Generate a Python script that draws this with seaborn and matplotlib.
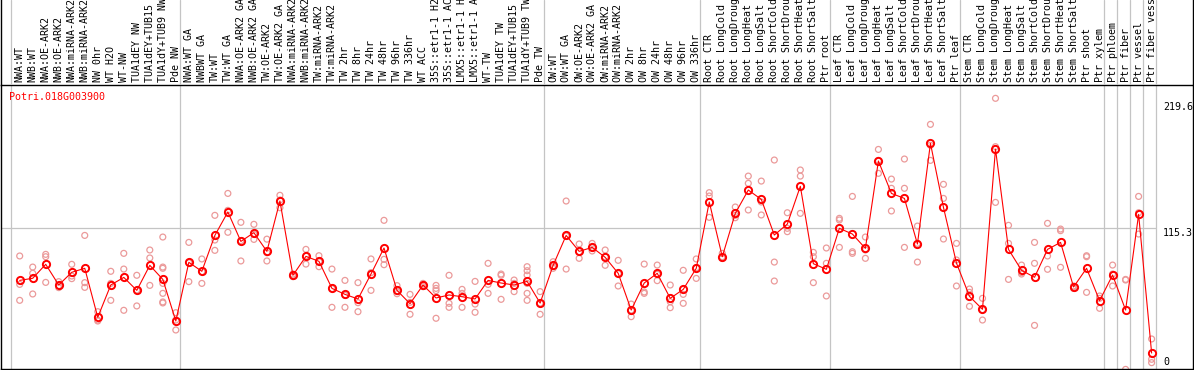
import numpy as np
import pandas as pd
import matplotlib
matplotlib.use('Agg')
import matplotlib.pyplot as plt
import seaborn as sns

# подписи образцов (сверху, повернуты)
labels = [
    'NWA:WT', 'NWB:WT', 'NWA:OE-ARK2', 'NWB:OE-ARK2', 'NWA:miRNA-ARK2', 'NWB:miRNA-ARK2',
    'NW 0hr', 'WT H2O', 'WT-NW', 'TUA1dEY NW', 'TUA1dEY+TUB15 NW', 'TUA1dY+TUB9 NW', 'Pde NW',
    'NWA:WT GA', 'NWBWT GA', 'TW:WT', 'TW:WT GA', 'NWA:OE-ARK2 GA', 'NWB:OE-ARK2 GA',
    'TW:OE-ARK2', 'TW:OE-ARK2 GA', 'NWA:miRNA-ARK2 GA', 'NWB:miRNA-ARK2 GA', 'TW:miRNA-ARK2',
    'TW:miRNA-ARK2 GA', 'TW 2hr', 'TW 8hr', 'TW 24hr', 'TW 48hr', 'TW 96hr', 'TW 336hr',
    'WT ACC', '35S::etr1-1 H2O', '35S::etr1-1 ACC', 'LMX5::etr1-1 H2O', 'LMX5::etr1-1 ACC',
    'WT-TW', 'TUA1dEY TW', 'TUA1dEY+TUB15 TW', 'TUA1dY+TUB9 TW', 'Pde TW',
    'OW:WT', 'OW:WT GA', 'OW:OE-ARK2', 'OW:OE-ARK2 GA', 'OW:miRNA-ARK2', 'OW:miRNA-ARK2 GA',
    'OW 2hr', 'OW 8hr', 'OW 24hr', 'OW 48hr', 'OW 96hr', 'OW 336hr',
    'Root CTR', 'Root LongCold', 'Root LongDrought', 'Root LongHeat', 'Root LongSalt',
    'Root ShortCold', 'Root ShortDrought', 'Root ShortHeat', 'Root ShortSalt', 'Ptr root',
    'Leaf CTR', 'Leaf LongCold', 'Leaf LongDrought', 'Leaf LongHeat', 'Leaf LongSalt',
    'Leaf ShortCold', 'Leaf ShortDrought', 'Leaf ShortHeat', 'Leaf ShortSalt', 'Ptr leaf',
    'Stem CTR', 'Stem LongCold', 'Stem LongDrought', 'Stem LongHeat', 'Stem LongSalt',
    'Stem ShortCold', 'Stem ShortDrought', 'Stem ShortHeat', 'Stem ShortSalt', 'Ptr shoot',
    'Ptr xylem', 'Ptr phloem', 'Ptr fiber', 'Ptr vessel', 'Ptr fiber vessel',
]
group_sizes = [13, 28, 12, 10, 10, 11, 1, 1, 1, 1]

# средние значения (линия)
means = [
    73.5, 75.2, 86.4, 69.8, 80.0, 83.2, 43.9, 69.8, 75.9, 65.5, 85.6, 74.3, 40.9,
    88.0, 80.8, 109.6, 128.4, 104.8, 111.8, 96.8, 137.2, 77.6, 92.8, 88.8, 67.1, 62.3,
    58.6, 78.6, 99.5, 65.5, 54.8, 69.8, 59.4, 61.8, 60.4, 58.6, 73.5, 71.4, 69.8, 72.7, 55.3,
    85.6, 109.6, 96.8, 100.0, 92.0, 79.2, 49.7, 71.4, 79.2, 59.1, 66.3, 83.2,
    136.4, 92.5, 127.3, 146.0, 138.5, 109.9, 118.7, 149.0, 86.9, 82.4,
    115.3, 110.7, 99.2, 169.3, 143.3, 139.3, 102.7, 183.5, 132.1, 87.4,
    60.7, 50.3, 178.9, 98.4, 81.6, 76.0, 98.4, 104.0, 68.2, 83.2, 57.2,
    77.8, 49.7, 126.5, 15.2,
]

# повторности (кружки)
replicates = [
    [93.1, 70.3, 57.5], [84.2, 79.2, 62.6], [94.4, 92.5, 71.9], [72.5, 69.3, 67.7],
    [86.4, 77.0, 74.9], [109.6, 71.7, 67.9], [48.4, 41.7, 40.9], [80.8, 71.1, 57.5],
    [95.2, 82.6, 49.5], [77.6, 65.8, 53.0], [97.9, 91.5, 69.5],
    [108.3, 84.2, 83.2, 71.1, 63.1, 56.2, 55.4], [47.6, 41.7, 33.7],
    [104.0, 87.7, 72.5], [90.7, 80.5, 71.1], [125.7, 105.9, 97.6], [143.3, 129.7, 112.1],
    [120.1, 105.4, 89.1], [118.5, 110.4, 106.4], [106.6, 95.7, 89.1], [141.8, 138.0, 131.8],
    [78.6, 77.6, 76.5], [98.4, 93.1, 86.6], [93.3, 88.5, 84.5], [82.6, 66.9, 51.9],
    [73.5, 61.5, 51.9], [71.7, 55.6, 48.4], [90.7, 79.7, 65.5], [121.7, 90.4, 86.1],
    [69.3, 64.5, 62.8], [62.3, 55.9, 46.3], [71.1, 69.8, 68.5], [69.5, 67.1, 65.3, 43.1],
    [77.6, 55.1, 51.9], [66.3, 63.1, 51.9], [72.7, 54.5, 47.9], [87.2, 70.3, 63.1],
    [78.6, 77.6, 58.3], [73.8, 71.1, 64.5], [84.5, 81.3, 77.8, 71.1, 63.1, 57.5],
    [64.5, 55.3, 46.3],
    [88.5, 85.0, 83.2], [137.2, 109.1, 82.6], [102.7, 96.5, 91.2], [103.2, 100.0, 97.1],
    [97.9, 92.5, 85.6], [89.6, 78.9, 69.0], [54.5, 49.7, 44.4], [86.6, 64.2, 63.1],
    [85.8, 78.4, 73.3], [69.8, 56.4, 51.6], [81.6, 62.3, 55.1], [90.7, 83.7, 75.1],
    [143.9, 141.2, 124.1], [95.2, 92.5, 91.2], [132.4, 125.7, 123.8], [157.2, 151.4, 130.0],
    [153.2, 136.4, 126.0], [170.1, 88.2, 73.0], [127.8, 115.3, 112.6], [162.1, 157.2, 127.3],
    [96.0, 92.5, 71.7], [99.5, 87.2, 61.0],
    [123.3, 122.0, 100.0], [140.9, 96.5, 95.2], [108.3, 97.9, 91.2], [178.6, 169.8, 159.4],
    [154.8, 147.4, 129.2], [170.9, 147.4, 100.0], [117.1, 103.2, 88.2], [198.7, 181.9, 169.8],
    [150.6, 139.3, 106.7], [103.2, 89.9, 69.0],
    [66.6, 63.9, 52.7], [59.1, 50.0, 41.7], [219.6, 180.8, 136.1], [117.7, 103.2, 74.3],
    [85.8, 79.7, 78.6], [104.0, 87.2, 37.4], [119.3, 93.1, 82.4], [114.7, 113.4, 84.0],
    [69.0, 68.2, 67.1], [93.3, 92.5, 63.9], [61.0, 59.1, 51.1],
    [85.8, 78.6, 69.0], [74.3, 73.8, 2.1], [140.9, 127.8, 110.7], [26.5, 10.2, 7.5],
]

gene = 'Potri.018G003900'
scale_values = [219.6, 115.3, 0]
ref_line = 115.3

idx = np.arange(len(labels))
reps_df = pd.DataFrame([(i, v) for i, r in enumerate(replicates) for v in r],
                       columns=['idx', 'expr'])
means_df = pd.DataFrame({'idx': idx, 'expr': means})

sns.set_theme(style='white')
plt.rcParams['font.family'] = ['DejaVu Sans Mono', 'DejaVu Sans']
fs = 7.2

W, H = 1194, 370
fig = plt.figure(figsize=(W / 100, H / 100), dpi=100)
ax = fig.add_axes([1 / W, 1 / H, 1192 / W, 284 / H])
ax_head = fig.add_axes([1 / W, 285 / H, 1192 / W, 85 / H], sharex=ax)

xmin, xmax = -1.437, 90.18
ax.set_xlim(xmin, xmax)
ax.set_ylim(2.4, 230.3)

# разделители групп
bounds = np.concatenate([[0], np.cumsum(group_sizes)]) - 0.69
for a in (ax, ax_head):
    for b in bounds:
        a.axvline(b, color='#c4c4c4', lw=0.9, zorder=0)
ax.hlines(ref_line, xmin, bounds[-1], color='#c4c4c4', lw=0.9, zorder=0)

sns.scatterplot(data=reps_df, x='idx', y='expr', ax=ax, marker='o', s=18,
                facecolor='none', edgecolor='#eb9a9a', linewidth=0.9, zorder=2,
                legend=False)
sns.lineplot(data=means_df, x='idx', y='expr', ax=ax, color='red', lw=0.8,
             marker='o', markersize=5.2, markerfacecolor='none',
             markeredgecolor='red', markeredgewidth=1.4, zorder=3)

for a in (ax, ax_head):
    a.set_xticks([])
    a.set_yticks([])
    a.set_xlabel('')
    a.set_ylabel('')
    for side in ['left', 'right', 'top', 'bottom']:
        a.spines[side].set_color('black')
        a.spines[side].set_linewidth(1.0)
ax_head.spines['top'].set_visible(False)
ax_head.spines['bottom'].set_visible(False)

ax.text(0.007, 0.958, gene, transform=ax.transAxes, color='red', fontsize=fs,
        ha='left', va='center')

# подписи шкалы справа
offsets = [-6.5, -3.2, 7.2]
for v, dy in zip(scale_values, offsets):
    ax.annotate(f'{v:g}', xy=(87.88, v), xytext=(0, dy), textcoords='offset points',
                ha='left', va='center', fontsize=fs, color='black',
                annotation_clip=False)

ax_head.set_ylim(0, 1)
ax_head.patch.set_alpha(0)
for i, lab in enumerate(labels):
    ax_head.text(i, 0.035, lab, rotation=90, ha='center', va='bottom',
                 fontsize=fs, color='black', clip_on=True)

fig.savefig('out.png', dpi=100)
